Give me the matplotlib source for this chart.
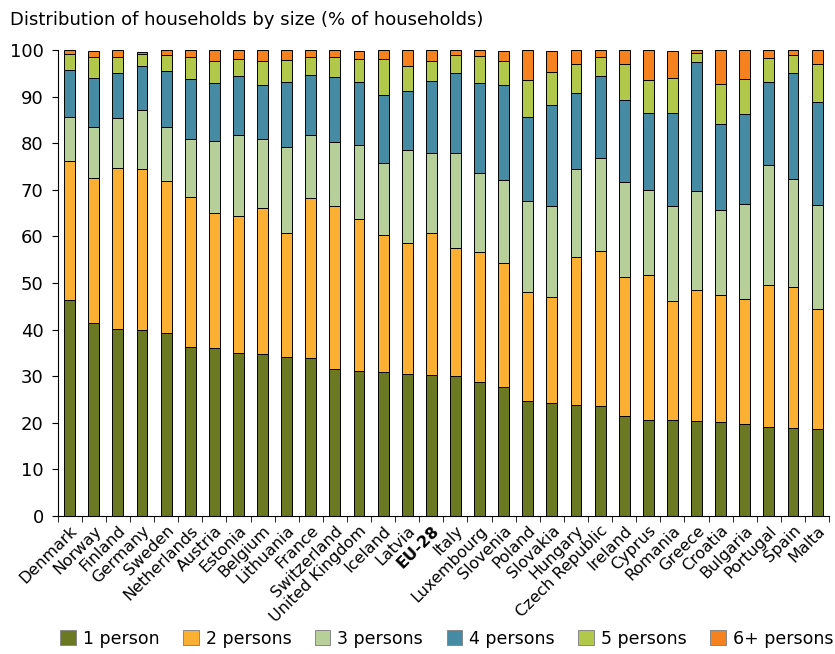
import matplotlib.pyplot as plt
import numpy as np

countries = ['Denmark', 'Norway', 'Finland', 'Germany', 'Sweden', 'Netherlands', 'Austria',
             'Estonia', 'Belgium', 'Lithuania', 'France', 'Switzerland', 'United Kingdom',
             'Iceland', 'Latvia', 'EU-28', 'Italy', 'Luxembourg', 'Slovenia', 'Poland',
             'Slovakia', 'Hungary', 'Czech Republic', 'Ireland', 'Cyprus', 'Romania', 'Greece',
             'Croatia', 'Bulgaria', 'Portugal', 'Spain', 'Malta']

p1 = [46.3, 41.5, 40.1, 39.9, 39.2, 36.3, 36.1, 34.9, 34.7, 34.1, 34.0, 31.5, 31.2, 30.8, 30.4,
      30.2, 30.0, 28.8, 27.6, 24.6, 24.3, 23.8, 23.6, 21.5, 20.7, 20.7, 20.3, 20.2, 19.8, 19.0,
      18.8, 18.6]
p2 = [29.8, 31.0, 34.6, 34.5, 32.7, 32.1, 28.9, 29.5, 31.5, 26.7, 34.2, 35.1, 32.5, 29.5, 28.2,
      30.6, 27.5, 27.8, 26.7, 23.4, 22.7, 31.7, 33.3, 29.7, 31.0, 25.5, 28.3, 27.2, 26.8, 30.5,
      30.4, 25.8]
p3 = [9.6, 11.0, 10.7, 12.8, 11.5, 12.4, 15.4, 17.3, 14.8, 18.4, 13.5, 13.6, 15.9, 15.4, 19.9,
      17.2, 20.5, 17.1, 17.9, 19.7, 19.6, 18.9, 20.0, 20.4, 18.2, 20.4, 21.1, 18.2, 20.4, 25.9,
      23.2, 22.3]
p4 = [10.1, 10.6, 9.7, 9.3, 12.2, 13.0, 12.6, 12.7, 11.5, 13.9, 12.9, 14.1, 13.5, 14.6, 12.7,
      15.3, 17.1, 19.3, 20.2, 17.9, 21.5, 16.4, 17.6, 17.6, 16.5, 19.9, 27.7, 18.5, 19.2, 17.8,
      22.6, 22.1]
p5 = [3.3, 4.5, 3.3, 2.6, 3.3, 4.7, 4.7, 3.7, 5.1, 4.8, 3.9, 4.3, 5.0, 7.8, 5.3, 4.4, 3.8, 5.7,
      5.3, 7.9, 7.2, 6.1, 3.9, 7.8, 7.2, 7.4, 1.9, 8.6, 7.6, 5.0, 3.9, 8.1]
p6 = [0.9, 1.1, 1.6, 0.5, 1.1, 1.5, 2.3, 1.9, 2.4, 2.1, 1.5, 1.4, 1.6, 1.9, 3.5, 2.3, 1.1, 1.3,
      2.0, 6.5, 4.5, 3.1, 1.6, 3.0, 6.4, 5.8, 0.7, 7.3, 6.2, 1.8, 1.1, 3.1]

labels = ['1 person', '2 persons', '3 persons', '4 persons', '5 persons', '6+ persons']
colors = ['#6b7a22', '#fbb034', '#b7cf98', '#468ba4', '#b1c84a', '#f5821f']

fig = plt.figure(figsize=(8.35, 6.54), dpi=100)
ax = fig.add_axes([0.069, 0.211, 0.924, 0.7125])

x = np.arange(len(countries))
bottom = np.zeros(len(countries))
for vals, lab, col in zip([p1, p2, p3, p4, p5, p6], labels, colors):
    ax.bar(x, vals, 0.45, bottom=bottom, color=col, edgecolor='black', linewidth=0.7, label=lab)
    bottom += np.array(vals)

ax.set_xlim(-0.5, len(countries) - 0.5)
ax.set_ylim(0, 100)
ax.set_yticks(range(0, 101, 10))
ax.tick_params(axis='y', labelsize=13, length=4, pad=6)
ax.set_xticks(x)
ax.set_xticklabels(countries, rotation=45, ha='right', rotation_mode='anchor', fontsize=11.5)
ax.tick_params(axis='x', length=0, pad=5)
ax.set_xticks(np.arange(-0.5, len(countries), 1), minor=True)
ax.tick_params(axis='x', which='minor', length=4)
for t in ax.get_xticklabels():
    if t.get_text() == 'EU-28':
        t.set_fontweight('bold')
for s in ['top', 'right']:
    ax.spines[s].set_visible(False)

fig.text(0.012, 0.962, 'Distribution of households by size (% of households)', fontsize=13)

fig.legend(loc='lower center', bbox_to_anchor=(0.535, -0.014), ncol=6, frameon=False,
           fontsize=12.5, handlelength=0.9, handleheight=0.9, columnspacing=1.35, handletextpad=0.4)
for h in fig.legends[0].legend_handles:
    h.set_edgecolor('#888888')

fig.savefig('out.png', dpi=100)
